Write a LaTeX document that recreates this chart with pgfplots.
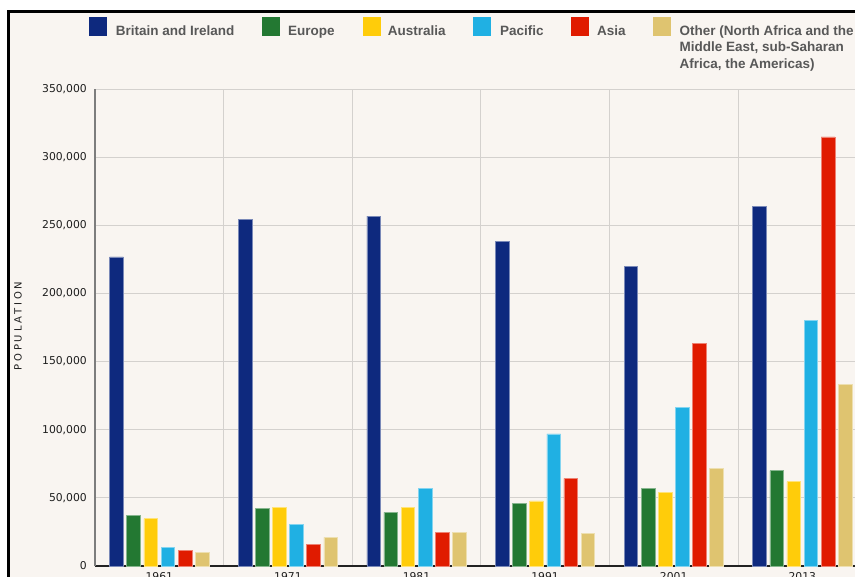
\documentclass[border=0pt]{standalone}
\usepackage{fontspec}
\setmainfont{Liberation Sans}
\newfontfamily\tickfont{DejaVu Sans}
\newfontfamily\labfont{DejaVu Sans}[LetterSpace=28]
\usepackage{pgfplots}
\usepackage{pgfplotstable}
\pgfplotsset{compat=1.18}

\definecolor{bgc}{RGB}{249,245,241}
\definecolor{gridc}{RGB}{212,209,206}
\definecolor{tickc}{RGB}{30,30,30}
\definecolor{legc}{RGB}{88,88,88}
\definecolor{xaxc}{RGB}{34,34,34}
\definecolor{yaxc}{RGB}{125,125,125}
\definecolor{cbri}{RGB}{14,41,126}
\definecolor{ceur}{RGB}{35,120,50}
\definecolor{caus}{RGB}{255,204,10}
\definecolor{cpac}{RGB}{32,176,227}
\definecolor{casi}{RGB}{224,27,0}
\definecolor{coth}{RGB}{223,196,112}

% population by birthplace, census years
\pgfplotstableread{
x bri    eur   aus   pac    asi    oth
0 226800 37400 34700 13700  11500  10000
1 254600 42100 42800 30600  15700  21000
2 256800 39400 42800 57200  24700  24700
3 238300 45700 47700 96900  64300  24000
4 219900 57200 54100 116200 163400 71700
5 263700 70000 62000 180500 314900 133400
}\popdata

\begin{document}
\begin{tikzpicture}
\useasboundingbox (0bp,0bp) rectangle (855bp,-577bp);
\clip (0bp,0bp) rectangle (855bp,-577bp);
\fill[white] (0bp,0bp) rectangle (855bp,-577bp);
\fill[bgc] (8.5bp,-11.3bp) rectangle (880bp,-600bp);
\draw[black, line width=2.6bp] (8.5bp,-600bp) -- (8.5bp,-11.3bp) -- (880bp,-11.3bp);

\begin{axis}[
    at={(95bp,-566bp)}, anchor=south west,
    scale only axis, width=771.6bp, height=477bp,
    xmin=-0.5, xmax=5.5, ymin=0, ymax=350000,
    axis x line*=bottom, axis y line*=left,
    x axis line style={-, draw=xaxc, line width=1.4bp},
    y axis line style={-, draw=yaxc, line width=1.2bp},
    xtick={0,...,5},
    xticklabels={1961,1971,1981,1991,2001,2013},
    minor xtick={-0.5,0.5,...,5.5},
    xminorgrids=true, xmajorgrids=false,
    ytick={0,50000,...,350000},
    ymajorgrids=true,
    major grid style={gridc, line width=1bp},
    minor grid style={gridc, line width=1bp},
    major tick length=0pt, minor tick length=0pt,
    scaled y ticks=false,
    /pgf/number format/.cd, fixed, 1000 sep={,}, assume math mode=true,
    /pgfplots/.cd,
    xticklabel style={font=\tickfont\fontsize{10.8bp}{13bp}\selectfont, text=tickc,
        inner sep=0pt, anchor=north, yshift=-6bp},
    yticklabel style={font=\tickfont\fontsize{10.8bp}{13bp}\selectfont, text=tickc,
        inner sep=0pt, anchor=east, xshift=-8bp},
    ylabel={POPULATION},
    ylabel style={font=\labfont\fontsize{10bp}{12bp}\selectfont, text=tickc,
        at={(axis description cs:-0.0998,0.503)}, anchor=center, inner sep=0pt},
]
\addplot[ybar, bar width=0.1065, bar shift=-0.3325, fill=cbri, draw=cbri!55!white, line width=0.6bp]
    table[x=x, y=bri] {\popdata};
\addplot[ybar, bar width=0.1065, bar shift=-0.1995, fill=ceur, draw=ceur!55!white, line width=0.6bp]
    table[x=x, y=eur] {\popdata};
\addplot[ybar, bar width=0.1065, bar shift=-0.0665, fill=caus, draw=caus!55!white, line width=0.6bp]
    table[x=x, y=aus] {\popdata};
\addplot[ybar, bar width=0.1065, bar shift=0.0665, fill=cpac, draw=cpac!55!white, line width=0.6bp]
    table[x=x, y=pac] {\popdata};
\addplot[ybar, bar width=0.1065, bar shift=0.1995, fill=casi, draw=casi!55!white, line width=0.6bp]
    table[x=x, y=asi] {\popdata};
\addplot[ybar, bar width=0.1065, bar shift=0.3325, fill=coth, draw=coth!55!white, line width=0.6bp]
    table[x=x, y=oth] {\popdata};
\end{axis}

% legend
\tikzset{legtext/.style={anchor=base west, inner sep=0pt, text=legc,
    font=\bfseries\fontsize{13.5bp}{16bp}\selectfont}}
\fill[cbri] (89bp,-17.3bp) rectangle (107bp,-35.5bp);
\node[legtext] at (115.7bp,-35bp) {Britain and Ireland};
\fill[ceur] (261.5bp,-17.3bp) rectangle (279.5bp,-35.5bp);
\node[legtext] at (288bp,-35bp) {Europe};
\fill[caus] (362.6bp,-17.3bp) rectangle (380.6bp,-35.5bp);
\node[legtext] at (387.7bp,-35bp) {Australia};
\fill[cpac] (473.3bp,-17.3bp) rectangle (491.3bp,-35.5bp);
\node[legtext] at (500bp,-35bp) {Pacific};
\fill[casi] (571bp,-17.3bp) rectangle (589bp,-35.5bp);
\node[legtext] at (597bp,-35bp) {Asia};
\fill[coth] (653.2bp,-17.3bp) rectangle (671.2bp,-35.5bp);
\node[legtext] at (679.5bp,-35bp) {Other (North Africa and the};
\node[legtext] at (679.5bp,-51.5bp) {Middle East, sub-Saharan};
\node[legtext] at (679.5bp,-68bp) {Africa, the Americas)};
\end{tikzpicture}
\end{document}
